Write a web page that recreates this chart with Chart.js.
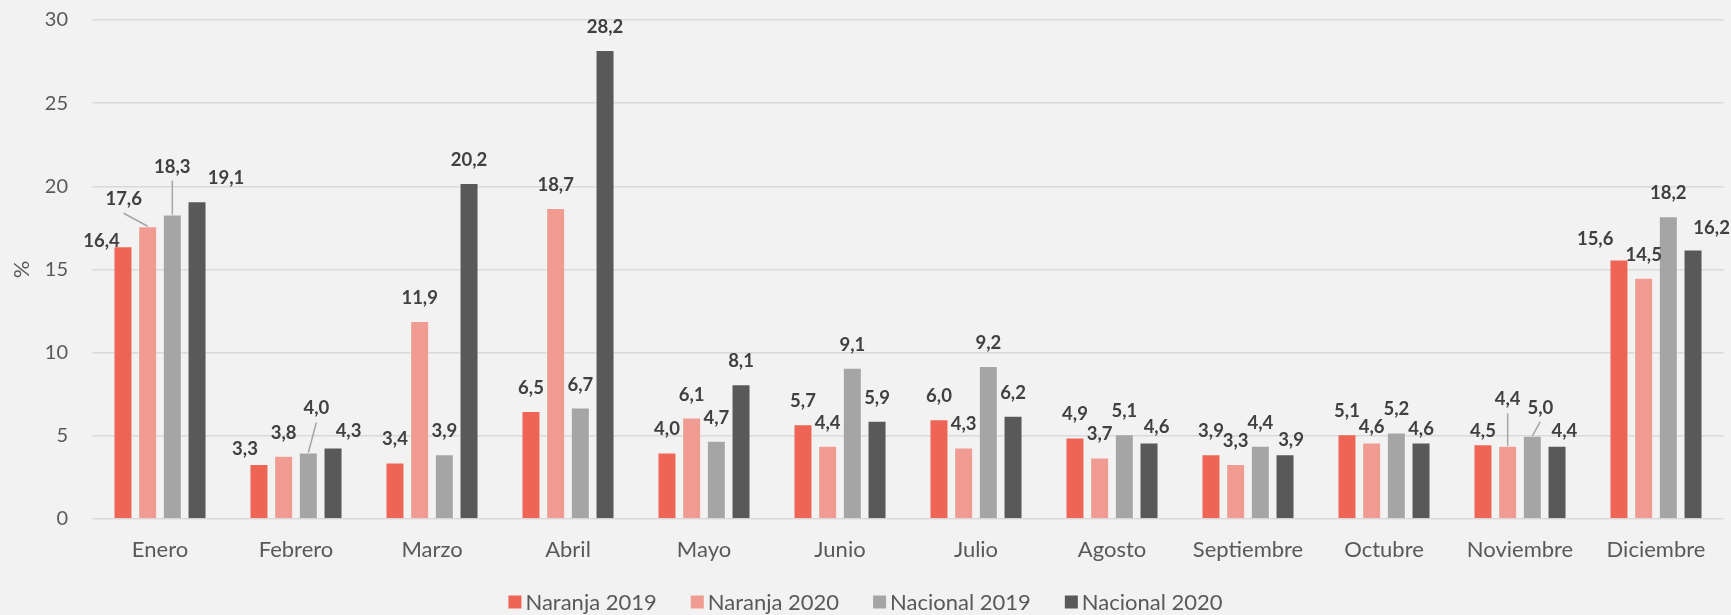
<!DOCTYPE html>
<html>
<head>
<meta charset="utf-8">
<script src="https://cdn.jsdelivr.net/npm/chart.js@4.4.1/dist/chart.umd.min.js"></script>
<style>
  html, body { margin: 0; padding: 0; background: #F2F2F2; }
  #wrap { width: 1731px; height: 615px; position: relative; }
  canvas { display: block; }
</style>
</head>
<body>
<div id="wrap"><canvas id="c" width="1731" height="615"></canvas></div>
<script>
const categories = ['Enero','Febrero','Marzo','Abril','Mayo','Junio','Julio','Agosto','Septiembre','Octubre','Noviembre','Diciembre'];
const naranja2019  = [16.4, 3.3, 3.4, 6.5, 4.0, 5.7, 6.0, 4.9, 3.9, 5.1, 4.5, 15.6];
const naranja2020  = [17.6, 3.8, 11.9, 18.7, 6.1, 4.4, 4.3, 3.7, 3.3, 4.6, 4.4, 14.5];
const nacional2019 = [18.3, 4.0, 3.9, 6.7, 4.7, 9.1, 9.2, 5.1, 4.4, 5.2, 5.0, 18.2];
const nacional2020 = [19.1, 4.3, 20.2, 28.2, 8.1, 5.9, 6.2, 4.6, 3.9, 4.6, 4.4, 16.2];
const seriesNames  = ['Naranja 2019', 'Naranja 2020', 'Nacional 2019', 'Nacional 2020'];
const yTickValues  = [0, 5, 10, 15, 20, 25, 30];
const yAxisTitle   = '%';

const colors = ['#EF6555', '#F19C93', '#A5A5A5', '#595959'];
const FONT = 'Lato, "Open Sans", sans-serif';

// label placement tweaks (pixel offsets of label centre from bar top), like Excel's manual moves
const labelTweaks = {
  '0-0': [-21.5, -6], '1-0': [-24, -28, true], '2-0': [0, -49, true], '3-0': [29, -24],
  '0-1': [-14, -16], '2-1': [8, -45, true], '3-1': [15.5, -17.5],
  '3-7': [7.5, -16.5], '3-8': [6, -15],
  '1-9': [0, -16.5], '3-9': [0, -14.2],
  '0-10': [0, -14.2], '1-10': [0, -47.5, true], '2-10': [8, -29.2, true], '3-10': [7.3, -15.8],
  '0-11': [-23.8, -21.3], '3-11': [18.6, -23]
};

const fmt = v => v.toFixed(1).replace('.', ',');

const dataLabelPlugin = {
  id: 'dataLabels',
  afterDatasetsDraw(chart) {
    const ctx = chart.ctx;
    ctx.save();
    ctx.font = 'bold 18.5px ' + FONT;
    ctx.textAlign = 'center';
    ctx.textBaseline = 'middle';
    chart.data.datasets.forEach((ds, si) => {
      const meta = chart.getDatasetMeta(si);
      meta.data.forEach((el, i) => {
        const t = labelTweaks[si + '-' + i] || [0, -24];
        const cx = el.x + t[0], cy = el.y + t[1];
        if (t[2]) {
          ctx.strokeStyle = '#A6A6A6';
          ctx.lineWidth = 1.5;
          ctx.beginPath();
          ctx.moveTo(cx, cy + 15);
          ctx.lineTo(el.x, el.y);
          ctx.stroke();
        }
        ctx.fillStyle = '#404040';
        ctx.fillText(fmt(ds.data[i]), cx, cy + 1);
      });
    });
    ctx.restore();
  }
};

const legendPlugin = {
  id: 'customLegend',
  afterDraw(chart) {
    const ctx = chart.ctx;
    ctx.save();
    ctx.font = '22px ' + FONT;
    ctx.textBaseline = 'middle';
    const box = 13, gap = 4, itemGap = 34;
    const widths = seriesNames.map(n => box + gap + ctx.measureText(n).width);
    const total = widths.reduce((a, b) => a + b, 0) + itemGap * (seriesNames.length - 1);
    let x = chart.width / 2 - total / 2;
    const y = 603;
    seriesNames.forEach((n, i) => {
      ctx.fillStyle = chart.data.datasets[i].backgroundColor;
      ctx.fillRect(x, y - box / 2 - 1, box, box);
      ctx.fillStyle = '#595959';
      ctx.textAlign = 'left';
      ctx.fillText(n, x + box + gap, y);
      x += widths[i] + itemGap;
    });
    ctx.restore();
  }
};

const bgPlugin = {
  id: 'bg',
  beforeDraw(chart) {
    const ctx = chart.ctx;
    ctx.save();
    ctx.fillStyle = '#F2F2F2';
    ctx.fillRect(0, 0, chart.width, chart.height);
    ctx.restore();
  }
};

const seriesData = [naranja2019, naranja2020, nacional2019, nacional2020];

new Chart(document.getElementById('c'), {
  type: 'bar',
  data: {
    labels: categories,
    datasets: seriesData.map((d, i) => ({
      label: seriesNames[i],
      data: d,
      backgroundColor: colors[i],
      borderColor: 'rgba(255,255,255,0.25)',
      borderWidth: 1,
      categoryPercentage: 0.726,
      barPercentage: 0.77
    }))
  },
  options: {
    responsive: false,
    animation: false,
    devicePixelRatio: 1,
    layout: { autoPadding: false, padding: { top: 20, right: 7, left: 0, bottom: 52 } },
    plugins: {
      legend: { display: false },
      tooltip: { enabled: false }
    },
    scales: {
      x: {
        grid: { display: false, drawTicks: false },
        border: { display: false },
        ticks: { color: '#595959', font: { family: FONT, size: 22 }, padding: 18, maxRotation: 0 },
        afterFit(scale) { scale.height = 44; scale.paddingLeft = 0; scale.paddingRight = 0; }
      },
      y: {
        min: 0,
        max: 30,
        afterBuildTicks(scale) { scale.ticks = yTickValues.map(v => ({ value: v })); },
        grid: { color: '#D9D9D9', lineWidth: 1.5, drawTicks: false },
        border: { display: false },
        ticks: { color: '#595959', font: { family: FONT, size: 20 }, padding: 24 },
        title: { display: true, text: yAxisTitle, color: '#595959', font: { family: FONT, size: 22 }, padding: { top: 9, bottom: 0 } },
        afterFit(scale) { scale.width = 92; scale.paddingTop = 0; scale.paddingBottom = 0; }
      }
    }
  },
  plugins: [bgPlugin, dataLabelPlugin, legendPlugin]
});
</script>
</body>
</html>
